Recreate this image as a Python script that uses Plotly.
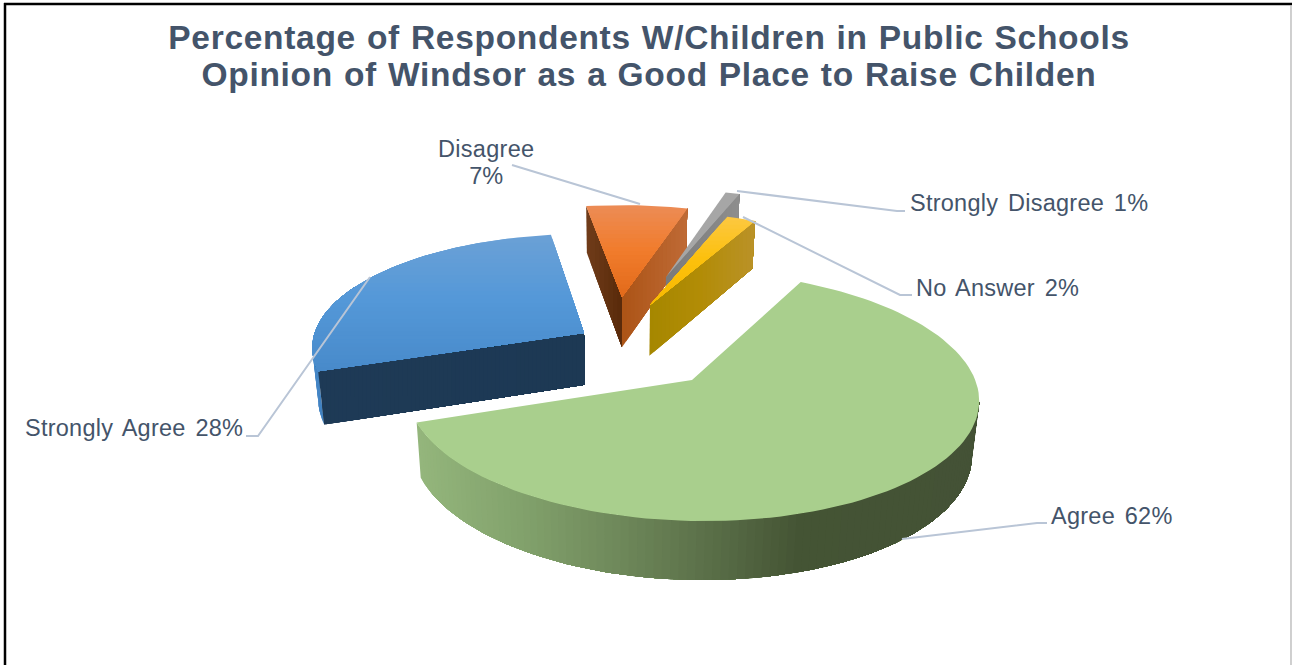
import math
import plotly.graph_objects as go

# Survey shares, clockwise from the first slice
categories = ["Agree", "Strongly Agree", "Disagree", "Strongly Disagree", "No Answer"]
values = [62, 28, 7, 1, 2]

title_lines = ["Percentage of Respondents W/Children in Public Schools",
               "Opinion of Windsor as a Good Place to Raise Childen"]

W, H = 1292, 665
FIRST_ANGLE = 27.5

# Projection of the tilted pie plane onto the page
HORIZON_Y = -580.0
VANISH_X = 607.0
REF_DEPTH = 960.0
REF_TILT = 0.1281
REF_RADIUS = 283.2

# Where the tip of each exploded slice lands
slice_tips = {
    "Agree": (692, 380),
    "Strongly Agree": (584, 333),
    "Disagree": (622, 297),
    "Strongly Disagree": (666, 277),
    "No Answer": (650, 305),
}

TEXT = "#44546a"
LEADER = "#b9c5d6"


def project(tip, deg):
    xa, ya = tip
    span = ya - HORIZON_Y
    tilt = REF_TILT * span / REF_DEPTH
    radius = REF_RADIUS * span / REF_DEPTH
    t = math.radians(deg)
    w = 1 + tilt * math.cos(t)
    return (VANISH_X + (xa - VANISH_X + radius * math.sin(t)) / w,
            HORIZON_Y + span / w)


def drop(pt):
    """Lower edge of the pie's thickness below a point on its top face."""
    x, y = pt
    return (x + (620 - x) * 0.02, y + 47 + 0.0386 * (y - 210))


def mix(stops, pos):
    pos = min(max(pos, stops[0][0]), stops[-1][0])
    for (a, ca), (b, cb) in zip(stops, stops[1:]):
        if pos <= b:
            f = 0 if b == a else (pos - a) / (b - a)
            return "rgb(%d,%d,%d)" % tuple(round(p + (q - p) * f) for p, q in zip(ca, cb))
    return "rgb(%d,%d,%d)" % stops[-1][1]


def clip(poly, axis, limit):
    """Keep the part of a convex polygon at or beyond a limit along one axis."""
    out = []
    for i, cur in enumerate(poly):
        prev = poly[i - 1]
        if (cur[axis] >= limit) != (prev[axis] >= limit):
            f = (limit - prev[axis]) / (cur[axis] - prev[axis])
            out.append((prev[0] + (cur[0] - prev[0]) * f, prev[1] + (cur[1] - prev[1]) * f))
        if cur[axis] >= limit:
            out.append(cur)
    return out


fig = go.Figure()


def fill(poly, color):
    xs = [p[0] for p in poly] + [poly[0][0]]
    ys = [p[1] for p in poly] + [poly[0][1]]
    fig.add_trace(go.Scatter(x=xs, y=ys, mode="lines", fill="toself", fillcolor=color,
                             line=dict(width=0), hoverinfo="skip", showlegend=False))


def shaded(poly, axis, stops, step=4):
    """Colour ramp along one axis; each band is painted over the rest, so no seams show."""
    lo = min(p[axis] for p in poly)
    hi = max(p[axis] for p in poly)
    n = max(1, int((hi - lo) / step))
    for i in range(n):
        a = lo + (hi - lo) * i / n
        band = clip(poly, axis, a) if i else poly
        if len(band) >= 3:
            fill(band, mix(stops, a + (hi - lo) / (2 * n)))


def top_face(tip, a, b):
    n = max(3, int((b - a) / 2))
    return [tip] + [project(tip, a + (b - a) * i / n) for i in range(n + 1)]


def rim(tip, a, b, stops):
    """Outer wall of a slice, painted from angle a toward b in overlapping pieces."""
    n = max(2, int(abs(b - a) / 1.5))
    pts = [project(tip, a + (b - a) * i / n) for i in range(n + 1)]
    for i in range(n):
        rest = pts[i:]
        poly = rest + [drop(p) for p in reversed(rest)]
        fill(poly, mix(stops, (pts[i][0] + pts[i + 1][0]) / 2))


def cut_wall(tip, deg, stops):
    """Straight wall from the tip of a slice out to its rim."""
    end = project(tip, deg)
    shaded([tip, end, drop(end), drop(tip)], 0, stops)


# Angular extent of every slice
spans = {}
start = FIRST_ANGLE
for name, val in zip(categories, values):
    spans[name] = (start, start + val * 3.6)
    start += val * 3.6

# Painted back to front
a, b = spans["Disagree"]
tip = slice_tips["Disagree"]
cut_wall(tip, a, [(587, (112, 60, 26)), (622, (88, 42, 10))])
cut_wall(tip, b, [(622, (172, 84, 22)), (692, (192, 108, 56))])
shaded(top_face(tip, a, b), 1, [(205, (236, 140, 86)), (250, (241, 124, 44)), (297, (226, 106, 26))])

a, b = spans["Strongly Disagree"]
tip = slice_tips["Strongly Disagree"]
cut_wall(tip, b, [(666, (122, 122, 122)), (742, (142, 142, 142))])
fill(top_face(tip, a, b), "#a6a6a6")

a, b = spans["No Answer"]
tip = slice_tips["No Answer"]
cut_wall(tip, b, [(650, (166, 135, 0)), (700, (178, 140, 6)), (755, (186, 146, 40))])
shaded(top_face(tip, a, b), 1, [(216, (252, 200, 66)), (260, (252, 192, 12)), (305, (248, 186, 0))])

a, b = spans["Strongly Agree"]
tip = slice_tips["Strongly Agree"]
rim(tip, a, a + 45, [(310, (70, 136, 200)), (330, (60, 120, 180))])
cut_wall(tip, a, [(317, (30, 58, 86)), (584, (29, 57, 84))])
shaded(top_face(tip, a, b), 1, [(232, (108, 161, 214)), (300, (84, 152, 216)), (371, (72, 138, 202))])

a, b = spans["Agree"]
tip = slice_tips["Agree"]
rim(tip, b, 100, [(417, (148, 182, 124)), (520, (130, 162, 108)), (620, (110, 136, 90)),
                  (720, (88, 108, 70)), (800, (68, 84, 52)), (980, (68, 82, 54))])
fill(top_face(tip, a, b), "#a9cf8d")

# Leader lines from labels to slices
leaders = [
    [(512, 165), (640, 204)],
    [(737, 191), (897, 211), (905, 211)],
    [(743, 217), (900, 295), (912, 295)],
    [(902, 539), (1037, 523), (1047, 523)],
    [(370, 277), (258, 436), (246, 436)],
]
for path in leaders:
    fig.add_trace(go.Scatter(x=[p[0] for p in path], y=[p[1] for p in path], mode="lines",
                             line=dict(color=LEADER, width=2), hoverinfo="skip",
                             showlegend=False))


def spaced(line, size, letters, words):
    return (f'<span style="font-size:{size}px;letter-spacing:{letters}px;'
            f'word-spacing:{words}px">{line}</span>')


label_spots = {
    "Agree": (1049, 516, "left"),
    "Strongly Agree": (23, 428, "left"),
    "Disagree": (486, 162, "center"),
    "Strongly Disagree": (908, 203, "left"),
    "No Answer": (914, 288, "left"),
}
annotations = []
for name, val in zip(categories, values):
    x, y, anchor = label_spots[name]
    if name == "Disagree":
        text = spaced(name, 23.5, 0.3, 0) + "<br>" + spaced(f"{val}%", 23.5, 0, 0)
    else:
        text = spaced(f"{name} {val}%", 23.5, 0.25, 3)
    annotations.append(dict(x=x, y=y, xref="x", yref="y", text=text,
                            showarrow=False, xanchor=anchor, yanchor="middle", align="center",
                            font=dict(family="Liberation Sans", size=20.8, color=TEXT)))

# Page frame
frame = [
    dict(type="line", x0=5, x1=5, y0=3, y1=H, line=dict(color="#000000", width=2.5)),
    dict(type="line", x0=4, x1=W, y0=4, y1=4, line=dict(color="#000000", width=2.5)),
    dict(type="line", x0=1291, x1=1291, y0=5, y1=H, line=dict(color="#b0b0b0", width=1.2)),
]

title_text = "<br>".join(spaced(line, 33.5, 0.7, 1) for line in title_lines)

fig.update_layout(
    width=W, height=H, margin=dict(l=0, r=0, t=0, b=0),
    paper_bgcolor="white", plot_bgcolor="white", showlegend=False,
    title=dict(text=title_text, x=649 / W, xanchor="center", y=1 - 48.5 / H, yanchor="middle",
               font=dict(family="Liberation Sans", size=29.2, color=TEXT, weight="bold")),
    xaxis=dict(range=[0, W], visible=False, fixedrange=True),
    yaxis=dict(range=[H, 0], visible=False, fixedrange=True),
    annotations=annotations, shapes=frame,
)

fig.write_html("out.html", config={"displayModeBar": False})
